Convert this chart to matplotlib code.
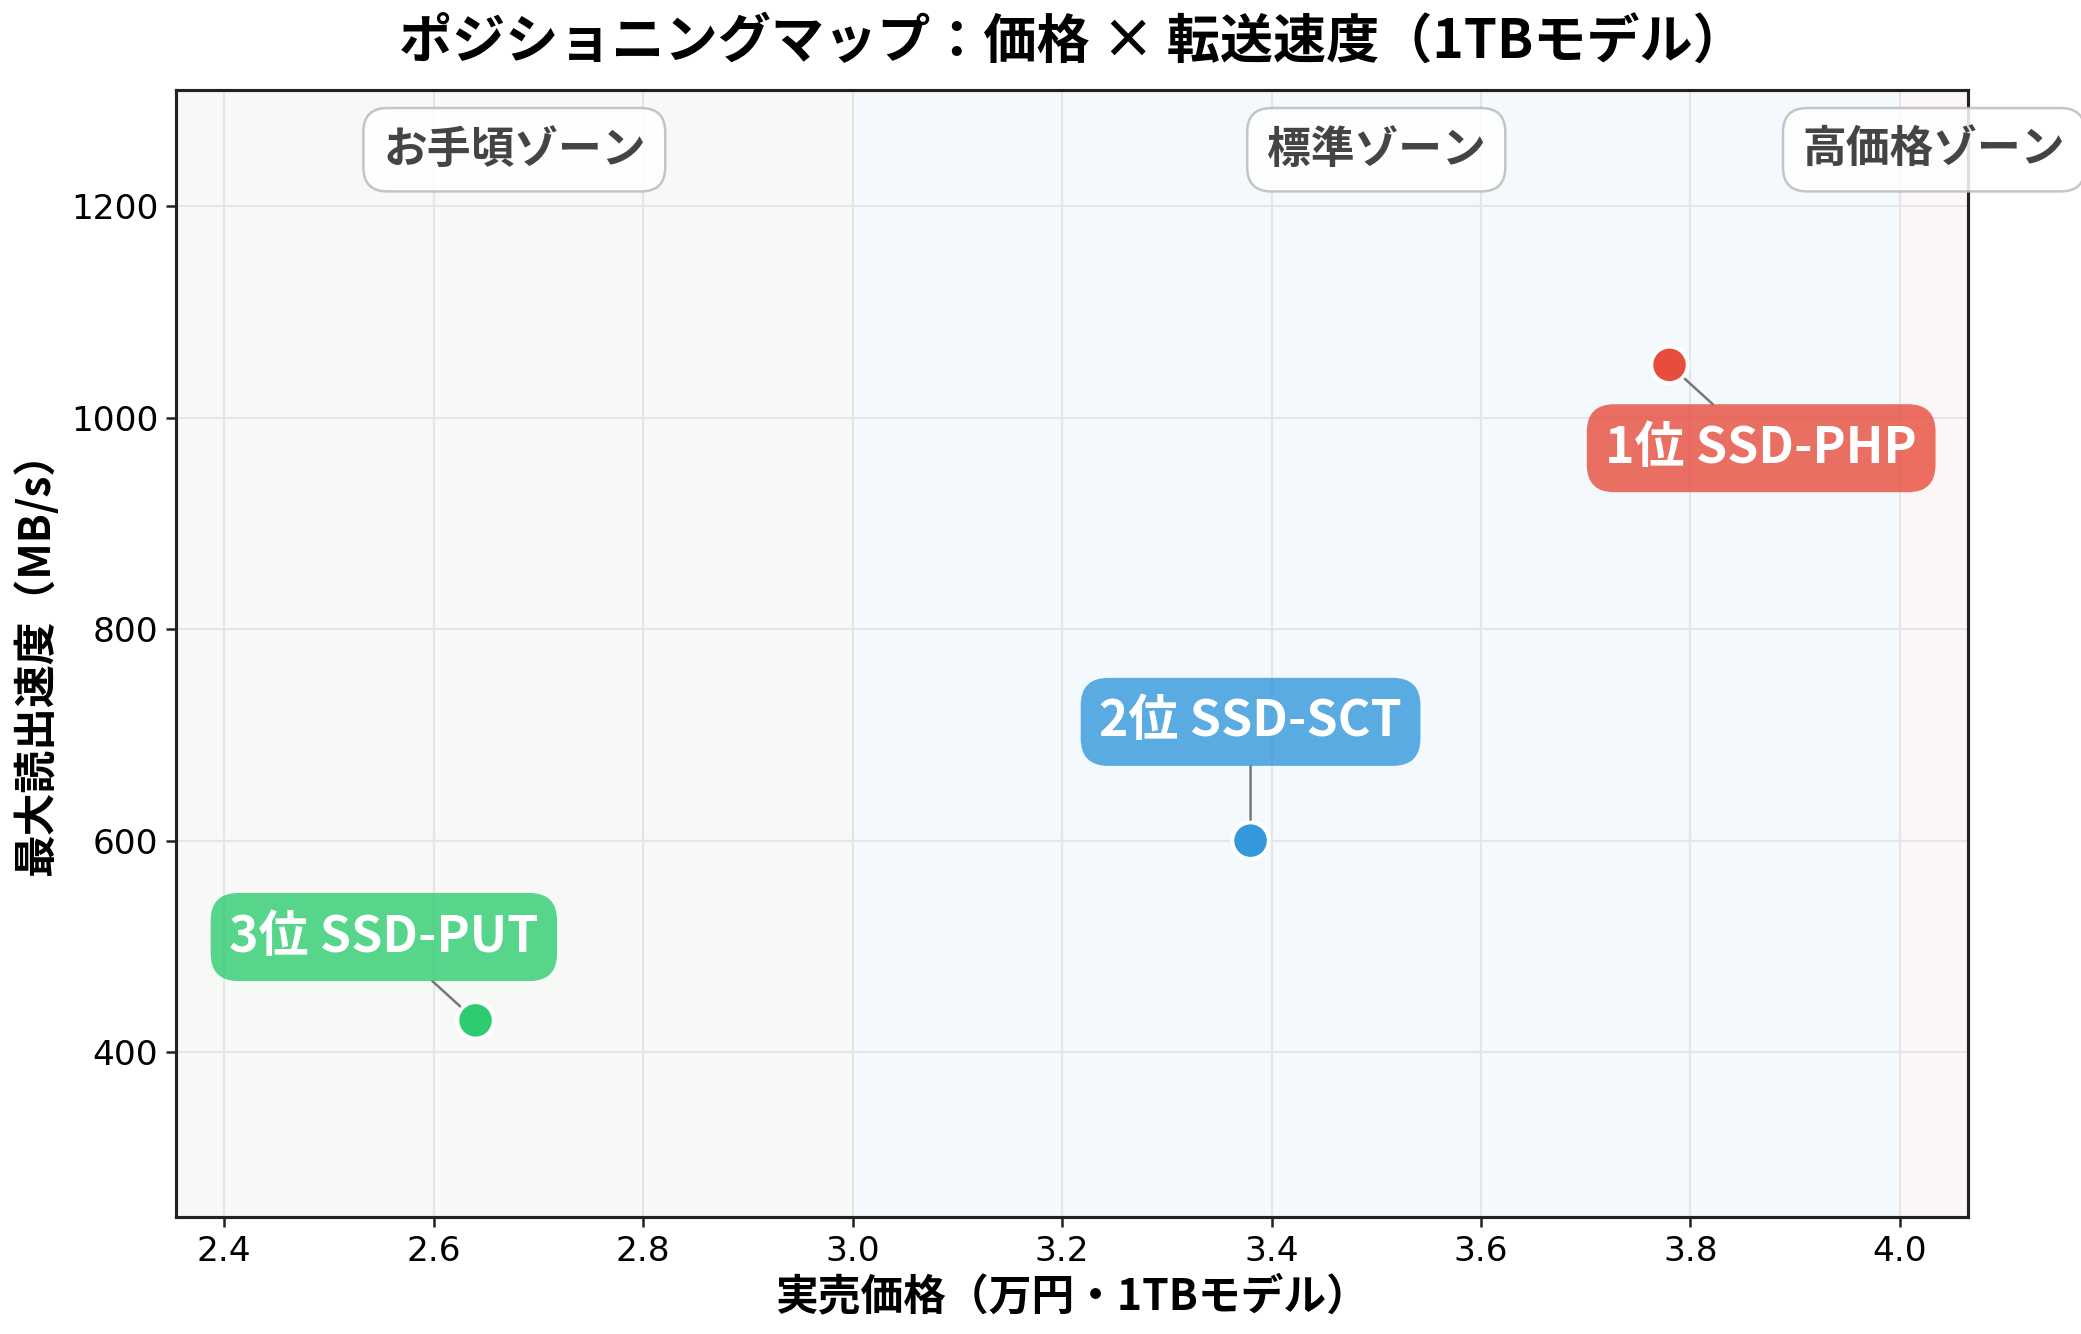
import matplotlib
matplotlib.use("Agg")
import matplotlib.pyplot as plt

plt.rcParams['font.family'] = ['Noto Sans CJK JP', 'DejaVu Sans']

# ---- data ----
names = ["1位 SSD-PHP", "2位 SSD-SCT", "3位 SSD-PUT"]
prices = [3.78, 3.38, 2.64]          # 万円
speeds = [1050, 600, 430]            # MB/s
colors = ["#e74c3c", "#3498db", "#2ecc71"]
offsets = [(44, -40), (0, 57), (-44, 40)]  # label offsets (points)

zone_names = ["お手頃ゾーン", "標準ゾーン", "高価格ゾーン"]
zone_edges = [3.0, 4.0]
zone_colors = ["#f7f9f6", "#f4f9fd", "#fdf6f6"]

xticks = [2.4, 2.6, 2.8, 3.0, 3.2, 3.4, 3.6, 3.8, 4.0]
yticks = [400, 600, 800, 1000, 1200]
xlim = (2.354, 4.065)
ylim = (244, 1310)

fig = plt.figure(figsize=(2081/150, 1334/150), dpi=150)
ax = fig.add_axes([176/2081, 1-1217/1334, (1968-176)/2081, (1217-90)/1334])

ax.set_xlim(*xlim)
ax.set_ylim(*ylim)

bounds = [xlim[0]] + zone_edges + [xlim[1]]
for i in range(3):
    ax.axvspan(bounds[i], bounds[i+1], color=zone_colors[i], zorder=0, lw=0)
    ax.text((bounds[i]+bounds[i+1])/2, 0.947, zone_names[i],
            transform=ax.get_xaxis_transform(), ha='center', va='center',
            fontsize=21, fontweight='bold', color='#444444', zorder=5, clip_on=False,
            bbox=dict(boxstyle='round,pad=0.45,rounding_size=0.55', fc='white', ec='#bbbbbb',
                      lw=1.2, alpha=0.85))

ax.set_xticks(xticks)
ax.set_yticks(yticks)
ax.set_xticklabels([f"{v:.1f}" for v in xticks], fontfamily='DejaVu Sans')
ax.set_yticklabels([str(v) for v in yticks], fontfamily='DejaVu Sans')
ax.tick_params(labelsize=16.5, length=5, width=1.2, color='#222222')
ax.grid(True, color='#e3e5e8', lw=1.0, zorder=1)
ax.set_axisbelow(True)
for s in ax.spines.values():
    s.set_color('#222222')
    s.set_linewidth(1.5)

ax.scatter(prices, speeds, s=310, c=colors, edgecolors='white', linewidths=2, zorder=4)

for n, x, y, c, off in zip(names, prices, speeds, colors, offsets):
    ax.annotate(n, xy=(x, y), xytext=off, textcoords='offset points',
                ha='center', va='center', fontsize=24, fontweight='bold', color='white',
                zorder=6,
                bbox=dict(boxstyle='round,pad=0.37,rounding_size=0.55', fc=c, ec='none', alpha=0.8),
                arrowprops=dict(arrowstyle='-', color='#777777', lw=1.2, shrinkA=0, shrinkB=10))

ax.set_xlabel("実売価格（万円・1TBモデル）", fontsize=20.5, fontweight='bold', labelpad=3)
ax.set_ylabel("最大読出速度（MB/s）", fontsize=20.5, fontweight='bold', labelpad=6)
fig.text((176+1968)/2/2081, 1-42/1334, "ポジショニングマップ：価格 × 転送速度（1TBモデル）",
         ha='center', va='center', fontsize=25.5, fontweight='bold')

fig.savefig("out.png", dpi=150)
